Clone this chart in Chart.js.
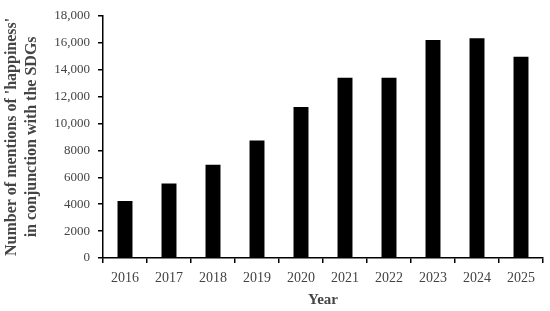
<!DOCTYPE html>
<html>
<head>
<meta charset="utf-8">
<script src="https://cdn.jsdelivr.net/npm/chart.js@4"></script>
<style>
  html, body { margin: 0; padding: 0; background: #fff; }
  #wrap { width: 550px; height: 311px; }
</style>
</head>
<body>
<div id="wrap"><canvas id="grafico"></canvas></div>
<script>
// dados
const years = ['2016', '2017', '2018', '2019', '2020', '2021', '2022', '2023', '2024', '2025'];
const mentions = [4240, 5540, 6930, 8740, 11220, 13390, 13390, 16210, 16340, 14960];
const yMax = 18000;
const yStep = 2000;

const serif = "'Liberation Serif', 'DejaVu Serif', serif";

// formato dos ticks: virgula so a partir de 10,000
function formatTick(v) {
  return v >= 10000 ? v.toLocaleString('en-US') : String(v);
}

const config = {
  type: 'bar',
  data: {
    labels: years,
    datasets: [{
      data: mentions,
      backgroundColor: '#000',
      borderWidth: 0,
      barPercentage: 0.34,
      categoryPercentage: 1.0
    }]
  },
  options: {
    responsive: false,
    animation: false,
    layout: { padding: { top: 6, right: 7, left: 0, bottom: 0 } },
    plugins: { legend: { display: false }, tooltip: { enabled: false } },
    scales: {
      x: {
        afterFit: function (scale) { scale.height = 53; },
        grid: { drawOnChartArea: false, drawTicks: true, tickLength: 5, color: '#000', lineWidth: 1.5, offset: true },
        border: { color: '#000', width: 1.5 },
        ticks: { color: '#444', font: { family: serif, size: 14 }, padding: 7, maxRotation: 0 },
        title: { display: true, text: 'Year', color: '#444', font: { family: serif, size: 15, weight: 'bold' }, padding: { top: 2, bottom: 2 } }
      },
      y: {
        min: 0,
        max: yMax,
        afterFit: function (scale) { scale.width = 103; },
        grid: { drawOnChartArea: false, drawTicks: true, tickLength: 5, color: '#000', lineWidth: 1.5 },
        border: { color: '#000', width: 1.5 },
        ticks: { stepSize: yStep, color: '#444', font: { family: serif, size: 13 }, padding: 8, callback: formatTick },
        title: {
          display: true,
          text: ["Number of mentions of 'happiness'", 'in conjunction with the SDGs'],
          color: '#444',
          font: { family: serif, size: 16, weight: 'bold', lineHeight: 1.3 },
          padding: { top: 1, bottom: 2 }
        }
      }
    }
  }
};

window.onload = function () {
  const cv = document.getElementById('grafico');
  cv.width = 550;
  cv.height = 311;
  window.grafico = new Chart(cv.getContext('2d'), config);
};
</script>
</body>
</html>
